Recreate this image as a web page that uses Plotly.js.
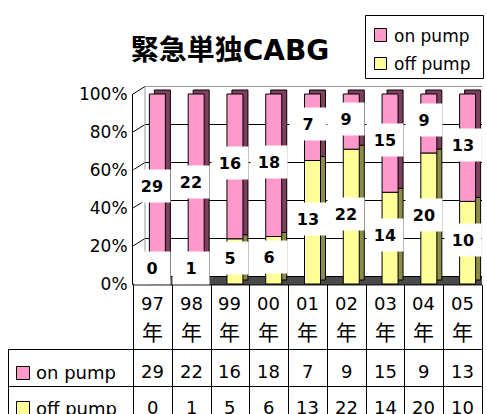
<!DOCTYPE html>
<html><head><meta charset="utf-8">
<script src="https://cdn.plot.ly/plotly-3.0.1.min.js"></script>
<style>html,body{margin:0;padding:0;background:#fff;}#chart{width:487px;height:414px;}</style>
</head><body><div id="chart"></div>
<script>
// ---- data ----
const years = ['97','98','99','00','01','02','03','04','05'];
const yearSuffix = '年';
const seriesNames = ['on pump', 'off pump'];
const onPump  = [29, 22, 16, 18, 7, 9, 15, 9, 13];
const offPump = [0, 1, 5, 6, 13, 22, 14, 20, 10];
const yTicks = [0, 20, 40, 60, 80, 100];
const titleText = '緊急単独CABG';

// ---- geometry / style ----
const W = 487, H = 414;
const L = 133, R = 482, T = 84, B = 286;
const pw = R - L, ph = B - T;
const pxPerPct = 1.9;
const zeroPx = 284;
const yMin = (zeroPx - B) / pxPerPct, yMax = (zeroPx - T) / pxPerPct;
const n = years.length;
const cw = pw / n;
const px = x => (x - L) / pw;
const py = y => (B - y) / ph;
const cx = x => -0.5 + (x - L) / cw;   // pixel -> category units
const backLift = 7.5 / pxPerPct;        // back wall offset in % (half-pixel aligned)
const wallX = 145;

const onFront = '#FF99CC', onSide = '#7F4060';
const offFront = '#FFFF99', offSide = '#8C8C48';

const xs = years.map((_, i) => i);
const tot = onPump.map((v, i) => v + offPump[i]);
const offPct = offPump.map((v, i) => v / tot[i] * 100);
const onPct = onPump.map((v, i) => v / tot[i] * 100);

// ---- 3D frame (main axes, beneath the bars which sit on an overlaid axis) ----
function lineTrace(xv, yv, color) {
  return {type: 'scatter', mode: 'lines', x: xv, y: yv, line: {color: color, width: 1},
    showlegend: false, hoverinfo: 'skip', cliponaxis: true};
}
const data = [];
data.push({type: 'scatter', mode: 'lines', fill: 'toself', fillcolor: '#4a4a4a',
  x: [cx(L), cx(R + 2), cx(R + 2), cx(wallX), cx(L)], y: [-0.5, -0.5, backLift, backLift, -0.5],
  line: {color: '#000', width: 1}, showlegend: false, hoverinfo: 'skip'});
const gx = [], gy = [], tx = [], ty = [];
yTicks.forEach(v => {
  if (v > 0 && v < 100) { gx.push(cx(wallX), cx(R + 2), null); gy.push(v + backLift, v + backLift, null); }
  tx.push(cx(L), cx(wallX), null); ty.push(v, v + backLift, null);
});
data.push(lineTrace(gx, gy, '#000'));
data.push(lineTrace(tx, ty, '#000'));
data.push(lineTrace([cx(wallX), cx(R + 2)], [100 + backLift, 100 + backLift], '#9a9a9a'));
data.push(lineTrace([cx(wallX), cx(wallX)], [backLift, 100 + backLift], '#9a9a9a'));

// ---- bars (front faces + dark side/top) ----
const frontOff = -3 / cw, barW = 16 / cw, sideShift = 5 / cw, topLift = 4 / pxPerPct;
function barTrace(y, base, color, offset, name) {
  return {type: 'bar', x: xs, y: y, base: base, offset: offset, width: barW, name: name, yaxis: 'y2',
    marker: {color: color, line: {color: '#000', width: 1}}, showlegend: false, hoverinfo: 'skip'};
}
data.push(
  barTrace(offPct, offPct.map(() => topLift), offSide, frontOff + sideShift, seriesNames[1]),
  barTrace(onPct, offPct.map(v => v + topLift), onSide, frontOff + sideShift, seriesNames[0]),
  barTrace(offPct, offPct.map(() => 0), offFront, frontOff, seriesNames[1]),
  barTrace(onPct, offPct, onFront, frontOff, seriesNames[0])
);

const shapes = [];
// axis line
shapes.push({type: 'line', xref: 'paper', yref: 'y', x0: px(132.5), x1: px(132.5), y0: -0.5, y1: 100,
  line: {color: '#000', width: 1}});
// table lines
function pline(x0, y0, x1, y1, c) {
  shapes.push({type: 'line', xref: 'paper', yref: 'paper', x0: px(x0), x1: px(x1), y0: py(y0), y1: py(y1),
    line: {color: c || '#000', width: 1}});
}
pline(8, 349.5, R, 349.5);
pline(8, 386.5, R, 386.5);
pline(8.5, 349, 8.5, 416);
for (let i = 0; i <= n; i++) {
  const x = Math.round(L + i * cw) + 0.5;
  pline(x, 285, x, 416);
}
function prect(x0, y0, x1, y1, fill) {
  shapes.push({type: 'rect', xref: 'paper', yref: 'paper', x0: px(x0), x1: px(x1), y0: py(y0), y1: py(y1),
    fillcolor: fill, line: {color: '#000', width: 1}});
}
// table swatches
prect(16.5, 366.5, 29.5, 379.5, onFront);
prect(16.5, 401.5, 29.5, 414.5, offFront);
// legend
prect(365.5, 15.5, 483.5, 78.5, 'rgba(0,0,0,0)');
prect(374.5, 28.5, 386.5, 41.5, onFront);
prect(374.5, 57.5, 386.5, 69.5, offFront);

const annotations = [];
const tfont = {family: 'DejaVu Sans', size: 18, color: '#000'};
// data labels
function labelY(base, h) { return Math.max(base + h / 2, 7); }
xs.forEach(i => {
  [[offPump[i], labelY(0, offPct[i])], [onPump[i], labelY(offPct[i], onPct[i])]].forEach(([val, y]) => {
    annotations.push({xref: 'x', yref: 'y', x: i, y: y, yshift: 3, text: '<b>' + val + '</b>', showarrow: false,
      font: {family: 'DejaVu Sans', size: 16, color: '#000'}, bgcolor: '#fff', width: 30, height: 26, borderpad: 3});
  });
  // header
  annotations.push({xref: 'x', yref: 'paper', x: i, y: py(303), text: years[i], showarrow: false,
    font: tfont, yanchor: 'middle'});
  annotations.push({xref: 'x', yref: 'paper', x: i, y: py(331), text: yearSuffix, showarrow: false,
    font: {family: 'Noto Sans CJK JP', size: 21, color: '#000'}, yanchor: 'middle'});
  // values
  annotations.push({xref: 'x', yref: 'paper', x: i, y: py(371), text: String(onPump[i]), showarrow: false,
    font: tfont, yanchor: 'middle'});
  annotations.push({xref: 'x', yref: 'paper', x: i, y: py(407), text: String(offPump[i]), showarrow: false,
    font: tfont, yanchor: 'middle'});
});
// row labels
annotations.push({xref: 'paper', yref: 'paper', x: px(34), y: py(372), xanchor: 'left', yanchor: 'middle',
  text: seriesNames[0], showarrow: false, font: tfont});
annotations.push({xref: 'paper', yref: 'paper', x: px(34), y: py(408), xanchor: 'left', yanchor: 'middle',
  text: seriesNames[1], showarrow: false, font: tfont});
// legend labels
const lfont = {family: 'DejaVu Sans', size: 17, color: '#000'};
annotations.push({xref: 'paper', yref: 'paper', x: px(392), y: py(36), xanchor: 'left', yanchor: 'middle',
  text: seriesNames[0], showarrow: false, font: lfont});
annotations.push({xref: 'paper', yref: 'paper', x: px(392), y: py(64), xanchor: 'left', yanchor: 'middle',
  text: seriesNames[1], showarrow: false, font: lfont});

const layout = {
  width: W, height: H,
  margin: {l: L, r: W - R, t: T, b: H - B, pad: 0},
  paper_bgcolor: '#fff', plot_bgcolor: 'rgba(0,0,0,0)',
  barmode: 'overlay',
  showlegend: false,
  title: {text: '<b>' + titleText + '</b>', x: (230 - L) / pw, xanchor: 'center', xref: 'paper',
    y: 1 - 50 / H, yanchor: 'middle', yref: 'container',
    font: {family: 'DejaVu Sans, Noto Sans CJK JP', size: 28, color: '#000'}},
  xaxis: {range: [-0.5, n - 0.5], showticklabels: false, showgrid: false, zeroline: false, showline: false, ticks: '', fixedrange: true},
  yaxis: {range: [yMin, yMax], tickvals: yTicks, ticktext: yTicks.map(v => v + '%'), showgrid: false, zeroline: false,
    showline: false, ticks: 'outside', ticklen: 1, tickcolor: 'rgba(0,0,0,0)',
    tickfont: {family: 'DejaVu Sans', size: 17, color: '#000'}, fixedrange: true},
  yaxis2: {range: [yMin, yMax], overlaying: 'y', side: 'right', visible: false, showgrid: false, zeroline: false, fixedrange: true},
  shapes: shapes,
  annotations: annotations
};
Plotly.newPlot('chart', data, layout, {displayModeBar: false, staticPlot: true});
</script>
</body></html>
